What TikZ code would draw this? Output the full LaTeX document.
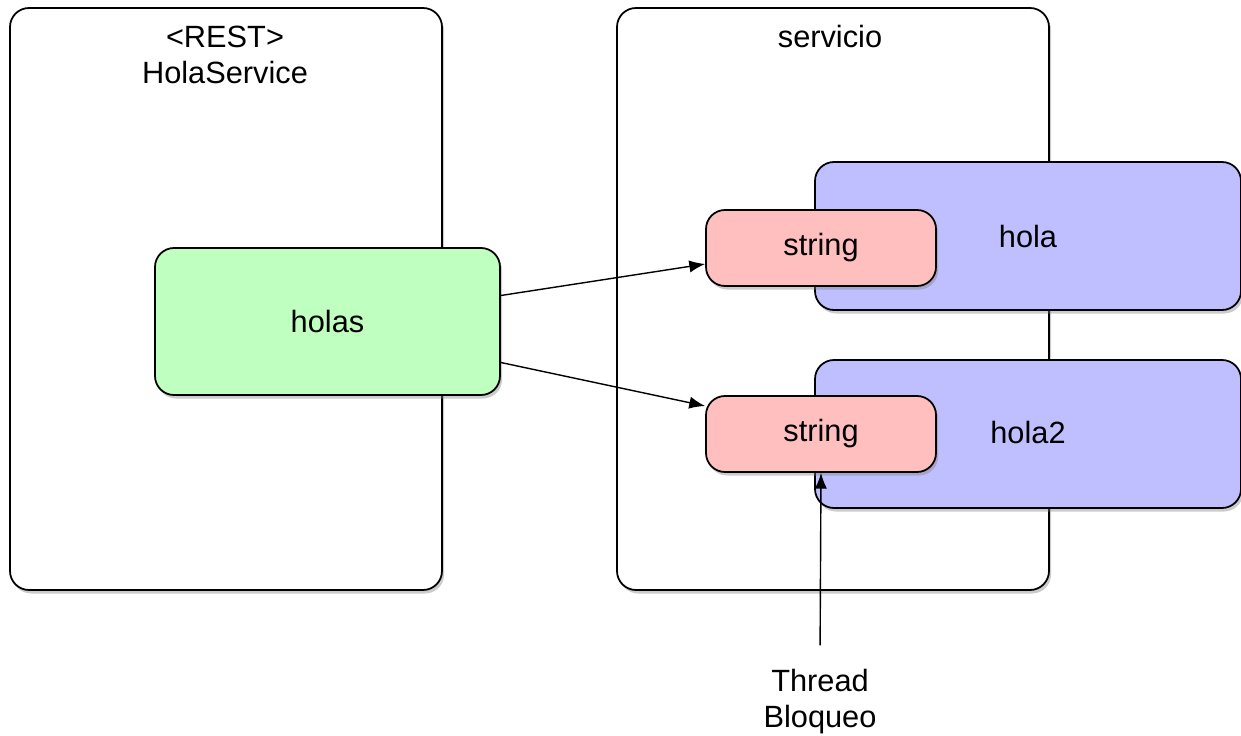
\documentclass[tikz,border=0pt]{standalone}
\usepackage{fontspec}
\setmainfont{Liberation Sans}
\usetikzlibrary{arrows.meta,shadows}
\definecolor{verde}{HTML}{BFFFBF}
\definecolor{azul}{HTML}{BFBFFF}
\definecolor{rosa}{HTML}{FFBFBF}
\tikzset{
  caja/.style={draw, line width=1pt, rounded corners=0.38cm, fill=white,
    drop shadow={shadow xshift=1.2pt, shadow yshift=-2pt, opacity=0.4}},
  texto/.style={font=\fontsize{17.5}{20.5}\selectfont, align=center},
  flecha/.style={-{Latex[length=9pt,width=7pt]}, line width=0.8pt}
}
\begin{document}
\begin{tikzpicture}
\useasboundingbox (0,0) rectangle (24.82,-14.72);

%<REST> HolaService
\node[caja, minimum width=8.64cm, minimum height=11.64cm] (rest) at (4.52,-5.98) {};
\node[texto] (resttit) at (4.5,-1.1) {<REST>\\HolaService};

%servicio
\node[caja, minimum width=8.64cm, minimum height=11.64cm] (servicio) at (16.66,-5.98) {};
\node[texto] (serviciotit) at (16.6,-0.74) {servicio};

%holas
\node[caja, texto, fill=verde, minimum width=6.9cm, minimum height=2.94cm] (holas) at (6.55,-6.43) {holas};

%hola, hola2
\node[caja, fill=azul, minimum width=8.52cm, minimum height=2.96cm] (hola) at (20.56,-4.72) {};
\node[texto] (holatxt) at (20.56,-4.74) {hola};
\node[caja, fill=azul, minimum width=8.52cm, minimum height=2.96cm] (hola2) at (20.56,-8.68) {};
\node[texto] (hola2txt) at (20.56,-8.66) {hola2};

%string
\node[caja, texto, fill=rosa, minimum width=4.6cm, minimum height=1.52cm] (string1) at (16.42,-4.96) {string};
\node[caja, texto, fill=rosa, minimum width=4.6cm, minimum height=1.52cm] (string2) at (16.42,-8.68) {string};

%flechas
\draw[flecha] ([yshift=0.52cm]holas.east) -- ([yshift=-0.32cm]string1.west);
\draw[flecha] ([yshift=-0.82cm]holas.east) -- ([yshift=0.56cm]string2.west);

%Thread Bloqueo
\node[texto] (thread) at (16.4,-14.04) {Thread\\Bloqueo};
\draw[flecha, shorten <=0.36cm] (thread.north) -- (string2.south);
\end{tikzpicture}
\end{document}
